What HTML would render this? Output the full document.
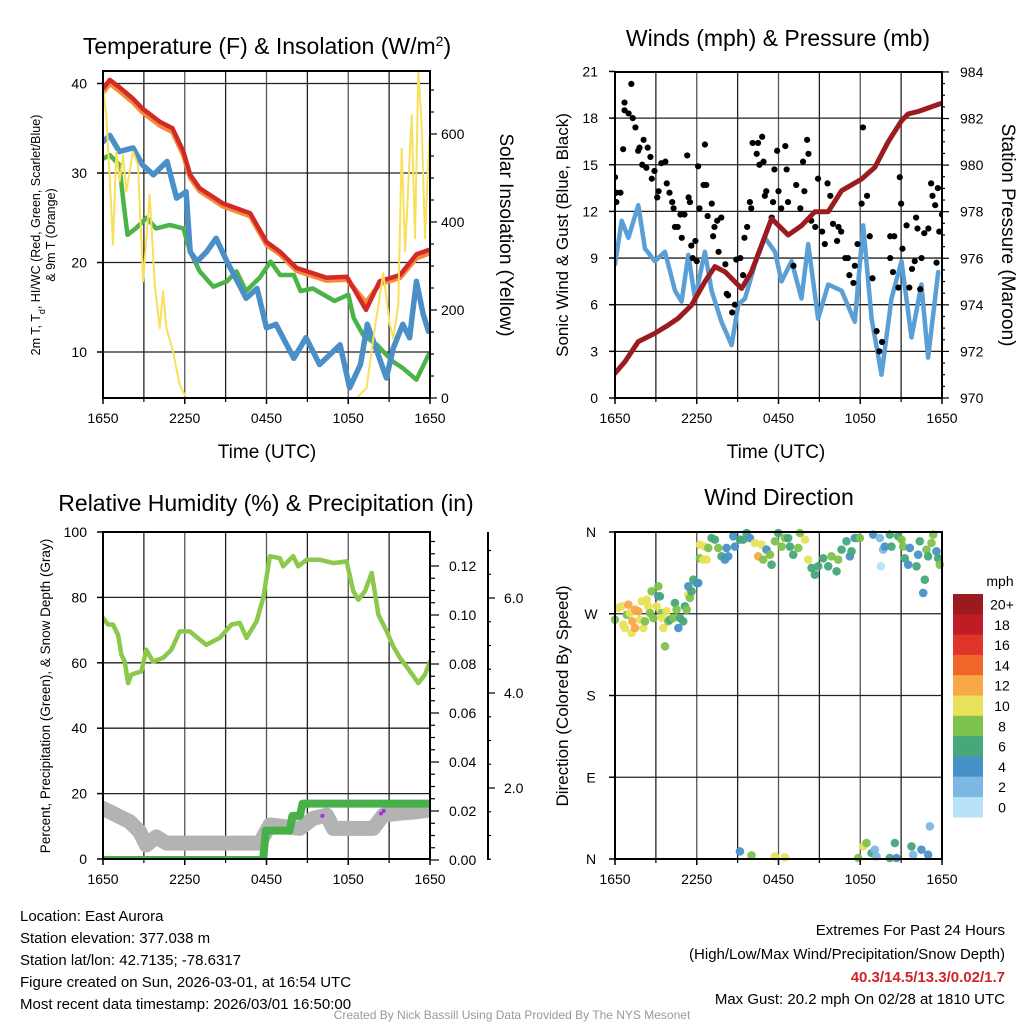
<!DOCTYPE html>
<html><head><meta charset="utf-8">
<style>
html,body{margin:0;padding:0;background:#fff;}
svg{display:block;font-family:"Liberation Sans",Arial,sans-serif;}
</style></head>
<body>
<svg id="root" width="1024" height="1024" viewBox="0 0 1024 1024" xmlns="http://www.w3.org/2000/svg">
<defs>
<clipPath id="c1"><rect x="103" y="71" width="327" height="327"/></clipPath>
<clipPath id="c2"><rect x="615" y="72" width="327" height="326"/></clipPath>
<clipPath id="c3"><rect x="103" y="532" width="327" height="327"/></clipPath>
<clipPath id="c4"><rect x="610" y="526" width="338" height="338"/></clipPath>
</defs>
<g id="g1"></g>
<g id="g2"></g>
<g id="g3"></g>
<g id="g4"></g>

<text x="267" y="54" font-size="23" text-anchor="middle">Temperature (F) &amp; Insolation (W/m<tspan baseline-shift="super" font-size="14">2</tspan>)</text>
<text x="778" y="46" font-size="23" text-anchor="middle">Winds (mph) &amp; Pressure (mb)</text>
<text x="266" y="511" font-size="23" text-anchor="middle">Relative Humidity (%) &amp; Precipitation (in)</text>
<text x="779" y="505" font-size="23" text-anchor="middle">Wind Direction</text>

<text x="267" y="458" font-size="19" text-anchor="middle">Time (UTC)</text>
<text x="776" y="458" font-size="19" text-anchor="middle">Time (UTC)</text>

<text transform="translate(40,235) rotate(-90)" font-size="12.5" text-anchor="middle">2m T, T<tspan baseline-shift="sub" font-size="9">d</tspan>, HI/WC (Red, Green, Scarlet/Blue)</text>
<text transform="translate(55,235) rotate(-90)" font-size="12.5" text-anchor="middle">&amp; 9m T (Orange)</text>
<text transform="translate(500,235) rotate(90)" font-size="19" text-anchor="middle">Solar Insolation (Yellow)</text>
<text transform="translate(568,235) rotate(-90)" font-size="17" text-anchor="middle">Sonic Wind &amp; Gust (Blue, Black)</text>
<text transform="translate(1002,235) rotate(90)" font-size="19" text-anchor="middle">Station Pressure (Maroon)</text>
<text transform="translate(50,696) rotate(-90)" font-size="13.5" text-anchor="middle">Percent, Precipitation (Green), &amp; Snow Depth (Gray)</text>
<text transform="translate(568,696) rotate(-90)" font-size="17" text-anchor="middle">Direction (Colored By Speed)</text>

<g font-size="15">
<text x="20" y="921">Location: East Aurora</text>
<text x="20" y="943">Station elevation: 377.038 m</text>
<text x="20" y="965">Station lat/lon: 42.7135; -78.6317</text>
<text x="20" y="987">Figure created on Sun, 2026-03-01, at 16:54 UTC</text>
<text x="20" y="1009">Most recent data timestamp: 2026/03/01 16:50:00</text>
</g>
<g font-size="15" text-anchor="end">
<text x="1005" y="935">Extremes For Past 24 Hours</text>
<text x="1005" y="959">(High/Low/Max Wind/Precipitation/Snow Depth)</text>
<text x="1005" y="982" fill="#d0242b" font-weight="bold">40.3/14.5/13.3/0.02/1.7</text>
<text x="1005" y="1004">Max Gust: 20.2 mph On 02/28 at 1810 UTC</text>
</g>
<text x="512" y="1019" font-size="12" fill="#999" text-anchor="middle">Created By Nick Bassill Using Data Provided By The NYS Mesonet</text>
</svg>
<script>
// ---- Panel 1 data (hours since 1650 UTC) ----
const tempHrs=[0,0.5,1.2,2.2,2.9,4.2,5.1,5.9,6.4,7.1,8.8,10.8,12,13,14.2,16.4,17.9,19.3,20.3,21.8,23,23.9];
const tempVals=[39.4,40.4,39.6,38.3,37.2,35.7,35,32.4,29.8,28.3,26.6,25.5,22.3,21.2,19.4,18.3,18.4,14.7,17.9,18.6,20.9,21.4];
const temp9Vals=[39.0,40.0,39.2,37.9,36.8,35.3,34.6,32.0,29.5,28.0,26.3,25.2,22.0,20.9,19.1,18.0,18.1,15.5,17.6,18.3,20.5,21.0];
const dewHrs=[0,0.5,1.2,2.2,2.9,3.7,4.7,5.4,6.1,6.4,6.9,7.6,8.3,9.1,10.0,10.5,11.3,12,12.7,14.0,14.9,15.9,17.4,18.1,18.9,19.4,20.1,20.8,21.3,22.0,22.5,23.0,23.5,23.9];
const dewVals=[33.5,34.2,32.4,32.8,30.9,29.8,31.3,27.2,27.9,21.2,20.1,21.2,22.7,20.1,17.5,16,17.1,12.7,13.1,9.3,11.6,8.6,10.8,6,8.6,13.1,10.1,7.1,10.4,13.1,11.6,17.9,14.2,12.3];
const hiHrs=[0,0.5,1.2,1.5,1.8,2.4,3.2,3.9,4.9,5.9,6.4,7.1,8.1,9.1,9.8,10.5,11.5,12.3,13,14,14.5,15.4,17,18.0,18.4,19.1,20.1,21.3,22.0,23.0,23.9];
const hiVals=[31.6,32,30.9,26.8,23.1,23.8,25,23.8,24.2,23.8,21.2,19,17.3,17.9,19,16.8,18.3,20.1,18.6,18.6,16.8,17.1,15.7,16.4,13.8,11.9,10.8,8.9,8.2,6.9,9.7];
const solHrs=[0,0.24,0.61,0.73,0.98,1.22,1.47,1.71,2.2,2.57,2.94,3.43,3.8,4.16,4.41,4.65,5.14,5.63,6.12,18.61,19.35,19.84,20.57,21.06,21.31,21.67,21.92,22.17,22.66,22.9,23.14,23.39,23.63,23.95];
const solVals=[704,643,431,348,560,492,552,469,560,530,265,462,257,159,242,159,106,30,0,0,23,136,284,166,136,212,567,333,643,363,741,620,363,590];
// ---- Panel 2 data ----
const presHrs=[0,0.73,1.71,2.93,3.91,4.64,5.62,6.6,7.33,8.07,9.29,10.02,10.76,11.49,12.71,13.69,14.67,15.65,16.63,18.09,19.07,20.05,21.03,21.52,22.25,23.95];
const presVals=[971.06,971.56,972.42,972.78,973.13,973.42,973.99,975,975.64,975.42,974.7,975.42,976.57,977.7,977.0,977.4,978.0,978.0,978.9,979.4,979.9,981,981.9,982.2,982.3,982.65];
const windHrs=[0,0.49,0.98,1.71,2.2,2.93,3.67,4.4,4.89,5.38,5.87,6.6,7.09,7.82,8.56,9.05,9.54,10.27,11.0,11.74,12.22,12.96,13.69,14.18,14.91,15.65,16.63,17.6,18.22,18.83,19.56,20.29,21.03,21.76,22.49,22.98,23.72];
const windVals=[8.6,11.4,10.3,12.4,9.6,8.8,9.4,6.9,6.2,9.2,6.4,9.4,6.9,4.9,3.4,6,6.4,8.6,10.3,9.4,7.5,8.8,6.4,9.9,5.1,7.3,6.9,4.9,11.1,5.1,1.5,6.4,8.8,3.9,7.3,2.6,8.1];
const gustHrs=[0,0.1,0.1,0.4,0.6,0.7,0.7,1.0,1.2,1.3,1.5,1.7,1.8,2.0,2.1,2.3,2.4,2.6,2.7,2.9,3.1,3.2,3.4,3.7,3.8,4.0,4.2,4.3,4.4,4.6,4.8,4.9,5.1,5.3,5.4,5.5,5.6,5.7,5.9,6.0,6.1,6.2,6.5,6.6,6.7,6.8,7.1,7.2,7.3,7.5,7.6,7.8,8.1,8.2,8.3,8.6,8.8,8.9,9.2,9.4,9.5,9.7,9.9,10.0,10.1,10.4,10.5,10.6,10.8,10.9,11.0,11.1,11.5,11.6,11.7,11.9,12.0,12.2,12.5,12.6,12.7,13.1,13.3,13.6,13.8,13.9,14.1,14.2,14.4,14.7,14.9,15.2,15.4,15.6,15.8,16.0,16.3,16.4,16.6,16.9,17.1,17.2,17.5,17.6,17.8,18.1,18.2,18.5,18.7,18.9,19.2,19.4,19.6,20.2,20.2,20.4,20.5,20.8,20.9,21.0,21.1,21.4,21.6,21.8,22.0,22.1,22.2,22.4,22.5,22.7,23.0,23.2,23.3,23.5,23.6,23.7,23.8,24.0];
const gustVals=[14.2,13.2,12.6,13.2,16.0,19.0,18.5,18.3,20.2,18.0,17.4,15.9,16.1,15.0,16.6,14.8,16.1,15.5,14.1,14.6,12.9,13.3,15.1,15.2,13.8,13.2,12.6,12.2,11.0,11.0,11.8,10.3,11.8,15.6,12.9,12.6,9.8,9.0,10.1,8.8,14.9,12.2,13.7,16.3,13.7,11.7,12.5,10.4,11.0,11.4,9.4,11.6,8.6,6.7,6.6,5.5,6.0,8.9,9.0,7.9,10.3,11.0,12.6,12.2,16.4,15.7,16.4,15.0,16.8,15.2,13.0,13.3,11.6,12.6,14.7,15.9,13.3,12.2,16.2,14.7,12.6,8.5,13.7,12.2,15.2,13.3,16.6,15.7,11.4,11.0,14.1,10.7,9.9,13.8,13.0,11.2,10.1,11.0,10.7,9.0,9.0,7.9,7.4,8.5,9.9,12.5,17.4,13.0,10.4,7.7,4.3,3.0,3.6,10.4,9.0,8.1,10.4,7.1,14.2,12.5,9.6,11.1,7.1,8.3,8.8,11.6,10.9,7.0,9.0,10.6,10.9,13.8,13.0,12.4,8.7,13.5,10.7,11.8];
// ---- Panel 3 data ----
const rhHrs=[0,0.37,0.73,1.1,1.35,1.59,1.84,2.08,2.82,3.18,3.67,4.41,5.02,5.63,6.37,7.1,7.59,8.57,9.43,10.04,10.53,11.27,11.76,12.25,12.98,13.22,13.96,14.33,14.94,15.92,16.9,17.88,18.37,18.74,19.23,19.72,20.21,20.82,21.31,21.8,22.53,23.14,23.63,23.99,24];
const rhVals=[73.7,71.7,71.7,68.6,62.5,60.4,53.8,56.4,57.4,64,60.4,61.5,64,69.6,69.6,67.1,65.5,67.6,71.7,72.2,67.6,72.7,79.8,92.6,92,89.5,92.6,89.5,91.5,91.5,90.5,91,81.9,79.3,81.9,87.5,74.7,69.6,65,61.5,57.4,53.8,56.4,60.4,60.4];
const precipHrs=[0,11.75,11.95,13.7,13.9,14.45,14.65,24];
const precipVals=[0,0,0.012,0.012,0.018,0.018,0.023,0.023];
const snowHrs=[0,0.98,1.96,2.69,3.18,3.91,4.65,11.5,12.25,14.45,15.43,16.41,16.9,19.84,20.57,21.8,23.0,23.99];
const snowVals=[1.57,1.43,1.29,1.08,0.80,0.97,0.84,0.84,1.22,1.15,1.36,1.43,1.15,1.15,1.43,1.47,1.50,1.54];
const precipDotHrs=[16.1,20.4,20.6];
const precipDotVals=[0.018,0.019,0.02];
// ---- Panel 4 data ----
const dirHrs=[0,0.24,0.49,0.61,0.73,0.86,0.98,1.1,1.22,1.27,1.47,1.47,1.71,1.83,1.96,2.08,2.2,2.32,2.44,2.57,2.69,2.81,3.06,3.18,3.18,3.3,3.42,3.42,3.55,3.67,3.79,3.91,4.03,4.28,4.4,4.52,4.65,4.77,5.01,5.13,5.26,5.38,5.38,5.5,5.62,5.75,5.99,6.11,
6.23,6.6,6.23,6.48,6.72,6.85,7.09,7.33,7.58,7.82,8.07,8.31,8.19,8.68,8.8,9.17,9.41,9.66,9.9,10.27,10.51,10.76,10.88,11.12,11.37,11.49,11.74,11.98,12.22,12.47,12.71,12.84,13.08,13.45,13.57,13.94,14.18,14.43,14.67,14.91,15.28,15.65,15.89,16.26,16.38,16.63,16.99,17.24,17.36,17.6,17.85,17.97,18.95,19.44,19.68,19.51,19.8,20.17,20.29,20.78,21.03,21.15,21.27,21.52,21.64,22.13,22.25,22.37,22.74,22.62,22.86,22.98,23.23,23.35,23.59,23.72,23.84,
9.17,10.02,11.74,12.47,17.85,18.22,18.46,18.83,19.07,19.19,20.17,20.54,20.66,21.76,21.88,22.49,22.98,23.11];
const dirDegs=[263.5,276.4,278.2,258,254.3,269,280,270.8,248.8,261.7,254.3,274.5,272.7,263.5,283.7,254.3,261.7,285.5,278.2,270.8,294.7,265.3,278.2,289.2,300.2,289.2,270.8,265.3,254.3,234.1,272.7,261.7,263.5,265.3,281.9,274.5,254.3,265.3,261.7,278.2,274.5,300.2,291,287.4,294.7,307.5,303.9,303.9,
346,344,331,329.6,329.6,342.4,353.4,351.6,342.4,333.2,329.6,333.2,342.4,355.3,344,351.6,351.6,358.9,353.4,347.9,333.2,346,329.6,340.6,335,324,349.8,358.9,344,353.4,353.4,344,335,342.4,358.9,351.6,329.6,320.4,313,322.2,331,322.2,333.2,316.7,329.6,340.6,349.8,333.2,338.7,353.4,353.4,353.4,357.1,353.4,340.6,322.2,344,357.1,344,355.3,351.6,344,331,324,342.4,322.2,335,349.8,307.5,292.9,340.6,333.2,347.9,357.1,338.7,331,324,
8.4,4,2.9,1.8,1.1,13.9,17.6,6.6,10.3,2.9,1.1,17.6,1.1,13.9,4.7,10.3,4.7,36];
const dirSpeeds=[8,10,10,10,10,8,12,10,10,12,12,12,12,10,10,10,8,10,10,8,8,8,10,4,8,6,8,10,10,8,10,8,6,8,6,8,4,6,6,6,8,4,10,8,6,6,6,4,
10,10,8,10,10,8,6,6,8,6,4,4,4,4,4,6,6,6,4,10,12,10,8,4,8,6,8,6,8,8,6,6,6,8,8,10,10,6,6,6,6,6,8,6,8,6,6,4,6,4,6,8,4,2,2,0,4,6,6,6,8,8,6,4,4,6,4,6,6,4,8,6,8,8,4,6,8,
4,8,10,10,8,10,8,6,2,2,6,6,4,6,2,4,4,2];
const speedLevels=[0,2,4,6,8,10,12,14,16,18,20];
const speedLabels=["0","2","4","6","8","10","12","14","16","18","20+"];
const speedColors=["#b8e2f8","#7db8e4","#4891c8","#47a77a","#7dc24d","#e8e25a","#f8a846","#f06529","#e0332a","#c11b26","#9b1a1e"];

const NS="http://www.w3.org/2000/svg";
function mk(parent,tag,attrs,name,inter){
  const el=document.createElementNS(NS,tag);
  for(const k in attrs) el.setAttribute(k,attrs[k]);
  
  
  parent.appendChild(el);
  return el;
}
function linePath(hs,vs,xf,yf){let d="";for(let i=0;i<hs.length;i++){d+=(i?"L":"M")+xf(hs[i]).toFixed(1)+","+yf(vs[i]).toFixed(1);}return d;}

const xL=h=>103+h*327/24;
const xR=h=>615+h*327/24;
const timeLabels=["1650","2250","0450","1050","1650"];
const timeTickHrs=[0,6,12,18,24];

function grid(g,x0,y0,w,h,hy,xf){
  for(let i=1;i<8;i++){const x=xf(i*3);
    mk(g,'line',{x1:x,y1:y0,x2:x,y2:y0+h,stroke:(i%2?"#222":"#555"),'stroke-width':1.3},'vertical-gridline',false);}
  hy.forEach(y=>{mk(g,'line',{x1:x0,y1:y,x2:x0+w,y2:y,stroke:"#222",'stroke-width':1.3},'horizontal-gridline',false);});
}
function frame(g,x0,y0,w,h){mk(g,'rect',{x:x0,y:y0,width:w,height:h,fill:'none',stroke:'#000','stroke-width':2},'plot-frame',false);}
function xTicks(g,xf,y){timeTickHrs.forEach((t,i)=>{
  mk(g,'line',{x1:xf(t),y1:y,x2:xf(t),y2:y+6,stroke:'#000','stroke-width':1.5},'x-tick',false);
  const tx=mk(g,'text',{x:xf(t),y:y+25,'font-size':14,'text-anchor':'middle'},'x-tick-label',false);tx.textContent=timeLabels[i];});
  for(let t=3;t<24;t+=6){mk(g,'line',{x1:xf(t),y1:y,x2:xf(t),y2:y+4,stroke:'#000','stroke-width':1.2},'x-minor-tick',false);}
}

// ===== Panel 1 =====
(function(){
  const g=document.getElementById('g1');
  const yT=v=>83.5+(40-v)*8.95, yS=v=>398-v*0.44;
  const tTicks=[10,20,30,40];
  grid(g,103,71,327,327,tTicks.map(yT),xL);
  tTicks.forEach(v=>{const t=mk(g,'text',{x:87,y:yT(v)+5,'font-size':14,'text-anchor':'end'},'left-tick-label',false);t.textContent=v;
    mk(g,'line',{x1:103,y1:yT(v),x2:97,y2:yT(v),stroke:'#000','stroke-width':1.5},'left-tick',false);});
  for(let v=0;v<=700;v+=50){const y=yS(v);mk(g,'line',{x1:430,y1:y,x2:v%200==0?437:434,y2:y,stroke:'#000','stroke-width':1.2},'right-tick',false);
    if(v%200==0){const t=mk(g,'text',{x:441,y:y+5,'font-size':14},'right-tick-label',false);t.textContent=v;}}
  const c=mk(g,'g',{'clip-path':'url(#c1)',fill:'none','stroke-linejoin':'round','stroke-linecap':'round'},'series-group',false);
  mk(c,'path',{d:linePath(hiHrs,hiVals,xL,yT),stroke:'#4bb347','stroke-width':4.5},'heat-index-line',false);
  mk(c,'path',{d:linePath(dewHrs,dewVals,xL,yT),stroke:'#4a8fc8','stroke-width':5.5},'dewpoint-line',false);
  mk(c,'path',{d:linePath(tempHrs,temp9Vals,xL,yT),stroke:'#f58a3a','stroke-width':5},'temp-9m-line',false);
  mk(c,'path',{d:linePath(tempHrs,tempVals,xL,yT),stroke:'#d42a27','stroke-width':4.5},'temp-2m-line',false);
  mk(c,'path',{d:linePath(solHrs,solVals,xL,yS),stroke:'#f8e05a','stroke-width':2},'insolation-line',false);
  frame(g,103,71,327,327);
  xTicks(g,xL,398);
})();

// ===== Panel 2 =====
(function(){
  const g=document.getElementById('g2');
  const yW=v=>398-v*15.55, yP=p=>398-(p-970)*23.29;
  const wT=[0,3,6,9,12,15,18,21];
  grid(g,615,72,327,326,[3,6,9,12,15,18].map(yW),xR);
  wT.forEach(v=>{const t=mk(g,'text',{x:598,y:yW(v)+5,'font-size':14,'text-anchor':'end'},'left-tick-label',false);t.textContent=v;
    mk(g,'line',{x1:615,y1:yW(v),x2:609,y2:yW(v),stroke:'#000','stroke-width':1.5},'left-tick',false);});
  for(let p=970;p<=984;p+=0.5){const y=yP(p);const maj=(p%2==0);
    mk(g,'line',{x1:942,y1:y,x2:maj?949:945,y2:y,stroke:'#000','stroke-width':1.2},'right-tick',false);
    if(maj){const t=mk(g,'text',{x:960,y:y+5,'font-size':14},'right-tick-label',false);t.textContent=p;}}
  const c=mk(g,'g',{'clip-path':'url(#c2)','stroke-linejoin':'round','stroke-linecap':'round'},'series-group',false);
  mk(c,'path',{d:linePath(windHrs,windVals,xR,yW),stroke:'#5a9fd6','stroke-width':4.5,fill:'none'},'sonic-wind-line',false);
  for(let i=0;i<gustHrs.length;i++){mk(c,'circle',{cx:xR(gustHrs[i]),cy:yW(gustVals[i]),r:3.1,fill:'#000'},'gust-point',false);}
  mk(c,'path',{d:linePath(presHrs,presVals,xR,yP),stroke:'#9b1b1e','stroke-width':5,fill:'none'},'pressure-line',false);
  frame(g,615,72,327,326);
  xTicks(g,xR,398);
})();

// ===== Panel 3 =====
(function(){
  const g=document.getElementById('g3');
  const yR=v=>859-v*3.27, yPr=v=>860-v*2450, ySn=v=>883-v*47.5;
  const rT=[0,20,40,60,80,100];
  grid(g,103,532,327,327,[20,40,60,80].map(yR),xL);
  rT.forEach(v=>{const t=mk(g,'text',{x:87,y:yR(v)+5,'font-size':14,'text-anchor':'end'},'left-tick-label',false);t.textContent=v;
    mk(g,'line',{x1:103,y1:yR(v),x2:97,y2:yR(v),stroke:'#000','stroke-width':1.5},'left-tick',false);});
  for(let k=0;k<=26;k++){const v=k*0.005;const y=yPr(v);if(y<532)break;const maj=(k%4==0);
    mk(g,'line',{x1:430,y1:y,x2:maj?439:435,y2:y,stroke:'#000','stroke-width':1.2},'precip-tick',false);
    if(maj){const t=mk(g,'text',{x:449,y:y+5,'font-size':14},'precip-tick-label',false);t.textContent=v.toFixed(2);}}
  mk(g,'line',{x1:488,y1:532,x2:488,y2:860,stroke:'#000','stroke-width':2},'snow-axis-line',false);
  for(let k=1;k<=14;k++){const v=k*0.5;const y=ySn(v);if(y<534)break;const maj=(k%4==0);
    mk(g,'line',{x1:488,y1:y,x2:maj?495:491,y2:y,stroke:'#000','stroke-width':1.2},'snow-tick',false);
    if(maj){const t=mk(g,'text',{x:504,y:y+5,'font-size':14},'snow-tick-label',false);t.textContent=v.toFixed(1);}}
  const c=mk(g,'g',{'clip-path':'url(#c3)',fill:'none','stroke-linejoin':'round','stroke-linecap':'round'},'series-group',false);
  mk(c,'path',{d:linePath(snowHrs,snowVals,xL,ySn),stroke:'#b3b3b3','stroke-width':15},'snow-depth-line',false);
  mk(c,'path',{d:linePath(precipHrs,precipVals,xL,yPr),stroke:'#48b048','stroke-width':8},'precip-line',false);
  for(let i=0;i<precipDotHrs.length;i++){mk(c,'circle',{cx:xL(precipDotHrs[i]),cy:yPr(precipDotVals[i]),r:2,fill:'#a030e0'},'precip-rate-point',false);}
  mk(c,'path',{d:linePath(rhHrs,rhVals,xL,yR),stroke:'#8cc84b','stroke-width':4.5},'humidity-line',false);
  frame(g,103,532,327,327);
  xTicks(g,xL,859);
})();

// ===== Panel 4 =====
(function(){
  const g=document.getElementById('g4');
  const yD=d=>859-d*327/360;
  const dT=[0,90,180,270,360], dL=["N","E","S","W","N"];
  grid(g,615,532,327,327,[90,180,270].map(yD),xR);
  dT.forEach((d,i)=>{const t=mk(g,'text',{x:591,y:yD(d)+5,'font-size':14,'text-anchor':'middle'},'direction-tick-label',false);t.textContent=dL[i];
    mk(g,'line',{x1:615,y1:yD(d),x2:609,y2:yD(d),stroke:'#000','stroke-width':1.5},'left-tick',false);});
  const c=mk(g,'g',{'clip-path':'url(#c4)'},'series-group',false);
  for(let i=0;i<dirHrs.length;i++){
    let li=0;for(let k=0;k<speedLevels.length;k++){if(dirSpeeds[i]>=speedLevels[k])li=k;}
    mk(c,'circle',{cx:xR(dirHrs[i]),cy:yD(dirDegs[i]),r:4.3,fill:speedColors[li],'fill-opacity':0.95},'direction-point',false);
  }
  frame(g,615,532,327,327);
  xTicks(g,xR,859);
  const lt=mk(g,'text',{x:1000,y:586,'font-size':14,'text-anchor':'middle'},'colorbar-title',false);lt.textContent="mph";
  for(let k=0;k<speedLevels.length;k++){const idx=speedLevels.length-1-k;const y=594+k*20.3;
    mk(g,'rect',{x:953,y:y,width:30,height:20.6,fill:speedColors[idx]},'colorbar-box',false);
    const t=mk(g,'text',{x:1002,y:y+15.5,'font-size':14,'text-anchor':'middle'},'colorbar-label',false);t.textContent=speedLabels[idx];}
})();
</script>
</body></html>
